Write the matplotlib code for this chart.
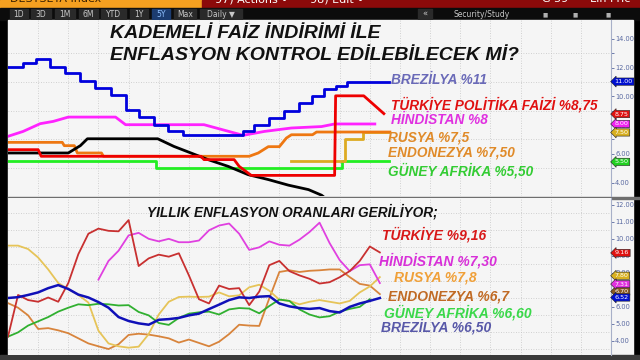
#!/usr/bin/env python3
"""Policy rates vs. annual inflation, emerging markets (Bloomberg-style screenshot)."""

import matplotlib
matplotlib.use("Agg")
import matplotlib.pyplot as plt
import numpy as np
from matplotlib.patches import Rectangle
from matplotlib.ticker import MultipleLocator, FormatStrFormatter

# ---------------- top panel: policy rates (month index, value) ----------------
brazil_rate_m = [0, 1.5, 2.8, 4.2, 5.7, 7.2, 8.7, 10.2, 11.7, 13.0, 14.5, 15.9, 17.4,
                 23.4, 24.5, 26.0, 27.5, 29.0, 30.2, 31.4, 32.6, 33.7, 37.9]
brazil_rate = [12.08, 12.35, 12.6, 12.08, 11.6, 11.08, 10.6, 10.1, 9.07, 8.56, 8.03, 7.56, 7.29,
               7.56, 8.03, 8.53, 9.0, 9.53, 10.04, 10.5, 10.75, 11.03, 11.03]

turkey_rate_m = [0, 3.0, 3.3, 19.2, 19.5, 22.5, 23.0, 24.2, 32.5, 32.6, 35.4, 37.4]
turkey_rate = [6.29, 6.29, 5.83, 5.83, 5.6, 5.6, 5.13, 4.5, 4.5, 10.04, 10.04, 8.8]

india_rate_m = [0, 1.5, 3.2, 4.5, 6.0, 10.7, 11.7, 19.5, 23.4, 25.5, 28.2, 31.2, 32.5, 36.5]
india_rate = [7.22, 7.56, 8.1, 8.26, 8.56, 8.56, 8.03, 8.03, 7.29, 7.56, 7.8, 7.9, 8.08, 8.08]

indonesia_rate_m = [0, 5.4, 5.6, 6.6, 6.9, 9.3, 9.5, 24.0, 24.9, 25.9, 27.0, 27.7, 28.2,
                    30.3, 30.7, 38.0]
indonesia_rate = [6.8, 6.8, 6.57, 6.57, 6.06, 6.06, 5.83, 5.83, 6.06, 6.5, 6.5, 7.1, 7.33,
                  7.33, 7.52, 7.52]

russia_rate_m = [28.2, 33.5, 35.3, 37.9]
russia_rate = [5.5, 7.0, 7.5, 7.5]

safrica_rate_m = [0, 14.7, 33.2, 37.9]
safrica_rate = [5.48, 5.02, 5.5, 5.5]

other_rate_m = [0, 6.0, 7.2, 7.9, 14.9, 16.5, 18.2, 19.9, 21.9, 23.9, 25.9, 27.9, 29.9, 31.2, 31.6]
other_rate = [6.06, 6.06, 6.57, 7.05, 7.05, 6.52, 6.06, 5.6, 5.13, 4.55, 4.21, 3.82, 3.51, 3.12, 2.9]

# ---------------- bottom panel: annual inflation, monthly ----------------
months = np.arange(38)
nan = np.nan
turkey_cpi = [4.25, 6.7, 6.4, 6.3, 6.55, 6.3, 7.4, 9.1, 10.3, 10.6, 10.47, 10.44, 11.1, 8.4,
              8.85, 9.07, 8.95, 9.15, 7.85, 6.45, 6.2, 7.25, 7.05, 7.1, 6.1, 6.9, 8.45, 8.7,
              8.1, 7.85, 7.65, 7.37, 7.45, 7.74, 8.1, 8.7, 9.55, 9.2]
india_cpi = [nan] * 9 + [7.6, 8.7, 9.3, 10.2, 10.35, 10.0, 9.85, 10.0, 9.8, 9.8, 9.9, 10.5,
                         10.78, 10.9, 10.3, 9.35, 9.5, 9.85, 9.65, 9.6, 9.95, 10.4, 10.95,
                         9.75, 8.75, 8.1, 8.45, 8.5, 7.4]
russia_cpi = [9.6, 9.6, 9.4, 8.9, 8.2, 7.4, 7.05, 6.7, 6.25, 4.6, 3.85, 3.68, 3.6, 3.66, 4.4,
              5.55, 6.3, 6.58, 6.6, 6.58, 6.6, 6.85, 6.62, 6.68, 7.15, 7.3, 6.95, 6.42, 6.35,
              6.15, 6.3, 6.4, 6.3, 6.2, 6.35, 6.85, 7.2, 7.75]
indonesia_cpi = [6.22, 5.95, 5.5, 4.7, 4.75, 4.62, 4.45, 4.15, 3.85, 3.68, 3.52, 3.8, 4.35,
                 4.42, 4.37, 4.27, 4.15, 3.9, 4.08, 3.88, 3.68, 3.95, 4.4, 4.95, 4.9, 4.88,
                 6.5, 8.05, 8.15, 8.05, 8.12, 8.15, 8.2, 8.2, 7.75, 7.35, 7.25, 6.75]
safrica_cpi = [4.25, 4.5, 4.9, 5.15, 5.4, 5.72, 5.95, 6.15, 6.1, 6.18, 6.15, 6.08, 6.1, 5.7,
               5.5, 5.05, 4.94, 5.35, 5.6, 5.68, 5.72, 5.55, 5.85, 5.93, 5.9, 5.62, 6.05,
               6.43, 6.35, 5.85, 5.55, 5.38, 5.45, 5.72, 5.88, 6.0, 6.45, nan]
brazil_cpi = [6.52, 6.57, 6.7, 6.85, 7.1, 7.28, 7.05, 6.72, 6.55, 6.28, 5.95, 5.4, 5.17, 5.03,
              4.95, 5.24, 5.28, 5.35, 5.5, 5.6, 5.87, 6.13, 6.4, 6.56, 6.52, 6.6, 6.63, 6.2,
              6.03, 5.93, 5.88, 5.93, 5.75, 5.67, 6.0, 6.2, 6.35, 6.52]

# last-value tags on the right axis (text, position, colour)
top_tags = ["11.00", "8.75", "8.00", "7.50", "5.50"]
top_tag_pos = [11.03, 8.77, 8.08, 7.49, 5.44]
top_tag_col = ["#0010d0", "#e01010", "#f020f0", "#d8b020", "#20d020"]
bot_tags = ["6.70", "9.16", "7.80", "7.31", "6.52"]
bot_tag_pos = [6.9, 9.17, 7.83, 7.34, 6.55]
bot_tag_col = ["#8a5a20", "#e01010", "#d8b020", "#e030e0", "#0010d0"]

W, H = 640, 360
BG = "#f5f5f5"
FONT = "Liberation Sans"


def fx(px):
    return px / W


def fy(py):
    return 1 - py / H


fig = plt.figure(figsize=(6.4, 3.6), dpi=100, facecolor="black")


def frect(x0, y0, x1, y1, color, z=-10):
    fig.patches.append(Rectangle((fx(x0), fy(y1)), (x1 - x0) / W, (y1 - y0) / H,
                                 transform=fig.transFigure, color=color, zorder=z))


# chrome: header bars, toolbar, plot background, separators
frect(0, 0, 202, 8, "#f5a020")
frect(202, 0, 640, 8, "#8c0a0a")
frect(0, 8, 640, 20, "#0c0c0c")
frect(8, 20, 633, 355, BG)
frect(0, 355, 640, 360, "#3a3a3a")
frect(8, 196.5, 640, 198.5, "#6e6e6e", z=-5)

hdr = dict(fontsize=8, family="DejaVu Sans", va="center")
fig.text(fx(10), fy(-0.5), "DESTSETA Index", color="#3a2000", **hdr)
fig.text(fx(215), fy(-0.5), "97) Actions \u2022", color="white", **hdr)
fig.text(fx(310), fy(-0.5), "98) Edit \u2022", color="white", **hdr)
fig.text(fx(542), fy(-0.5), "G 59", color="white", **hdr)
fig.text(fx(590), fy(-0.5), "Lin Pric", color="white", **hdr)

buttons = ["1D", "3D", "1M", "6M", "YTD", "1Y", "5Y", "Max", "Daily \u25bc"]
button_x = [10, 31, 55, 79, 101, 130, 152, 174, 200]
button_w = [18, 20, 20, 19, 25, 18, 18, 22, 42]
for lab, bx, bw in zip(buttons, button_x, button_w):
    active = lab == "5Y"
    frect(bx, 9.5, bx + bw, 19, "#1c3c70" if active else "#2a2a2a", z=-4)
    fig.text(fx(bx + bw / 2), fy(14.5), lab, ha="center", va="center", fontsize=5.5,
             family="DejaVu Sans", color="#8fc0ff" if active else "#c8c8c8")
frect(418, 9.5, 432, 19, "#2a2a2a", z=-4)
fig.text(fx(425), fy(14.5), "\u00ab", ha="center", va="center", fontsize=6, color="#c8c8c8")
fig.text(fx(453), fy(14.5), "Security/Study", va="center", fontsize=5.5,
         family="DejaVu Sans", color="#c8c8c8")
for ix in [545, 575, 608]:
    fig.text(fx(ix), fy(14.5), "\u25a0", ha="center", va="center", fontsize=4,
             color="#b0b0b0")

ax_top = fig.add_axes([fx(8), fy(196.5), (611 - 8) / W, (196.5 - 20) / H])
ax_bot = fig.add_axes([fx(8), fy(355), (611 - 8) / W, (355 - 198.5) / H])

for ax in (ax_top, ax_bot):
    ax.set_facecolor(BG)
    ax.set_xlim(0, 60)
    for s in ("top", "left", "bottom"):
        ax.spines[s].set_visible(False)
    ax.spines["right"].set_color("#a8b0c8")
    ax.spines["right"].set_linewidth(0.8)
    ax.yaxis.tick_right()
    ax.yaxis.set_major_formatter(FormatStrFormatter("%.2f"))
    ax.tick_params(axis="y", which="both", labelsize=4.8, labelcolor="#5868a0",
                   color="#5868a0", length=2, width=0.6, pad=1)
    ax.tick_params(axis="x", which="both", bottom=False, labelbottom=False)
    ax.set_xticks(np.arange(3, 60, 3), minor=True)
    ax.grid(True, which="minor", axis="x", color="#c4c4c4", linestyle=(0, (1, 2)),
            linewidth=0.6)

# ---- top panel ----
ax_top.set_ylim(3.03, 15.32)
ax_top.yaxis.set_major_locator(MultipleLocator(2))
ax_top.set_yticks(np.arange(5, 15, 2), minor=True)
ax_top.grid(True, which="minor", axis="y", color="#c4c4c4", linestyle=(0, (1, 2)),
            linewidth=0.6)

lw = 2.0
ax_top.plot(safrica_rate_m, safrica_rate, drawstyle="steps-post", color="#22ee22", lw=lw)
ax_top.plot(russia_rate_m, russia_rate, drawstyle="steps-post", color="#ddaa22", lw=lw)
ax_top.plot(indonesia_rate_m, indonesia_rate, color="#ee7711", lw=lw)
ax_top.plot(other_rate_m, other_rate, color="black", lw=lw)
ax_top.plot(india_rate_m, india_rate, color="#ff22ff", lw=lw)
ax_top.plot(turkey_rate_m, turkey_rate, color="#ee0000", lw=lw)
ax_top.plot(brazil_rate_m, brazil_rate, drawstyle="steps-post", color="#0000dd", lw=lw)

title_kw = dict(family=FONT, weight="bold", style="italic", va="center", color="#111111")
ax_top.text(10.1, 14.35, "KADEMELİ FAİZ İNDİRİMİ İLE", fontsize=14, **title_kw)
ax_top.text(10.1, 12.88, "ENFLASYON KONTROL EDİLEBİLECEK Mİ?", fontsize=14, **title_kw)

lab_kw = dict(family=FONT, weight="bold", style="italic", va="center", fontsize=9.8)
ax_top.text(38.1, 11.15, "BREZİLYA %11", color="#6a6ab8", **lab_kw)
ax_top.text(38.1, 9.42, "TÜRKİYE POLİTİKA FAİZİ %8,75", color="#e01010", **lab_kw)
ax_top.text(38.1, 8.33, "HİNDİSTAN %8", color="#e030e0", **lab_kw)
ax_top.text(37.8, 7.17, "RUSYA %7,5", color="#e08a28", **lab_kw)
ax_top.text(37.8, 6.06, "ENDONEZYA %7,50", color="#e08a28", **lab_kw)
ax_top.text(37.8, 4.85, "GÜNEY AFRİKA %5,50", color="#33cc33", **lab_kw)

# ---- bottom panel ----
ax_bot.set_ylim(3.17, 12.37)
ax_bot.yaxis.set_major_locator(MultipleLocator(1))
ax_bot.set_yticks(np.arange(3.5, 12.5, 1), minor=True)
ax_bot.tick_params(axis="y", which="minor", length=0)
ax_bot.grid(True, which="minor", axis="y", color="#c4c4c4", linestyle=(0, (1, 2)),
            linewidth=0.6)

lw2 = 1.3
ax_bot.plot(months, indonesia_cpi, color="#d8843c", lw=lw2)
ax_bot.plot(months, russia_cpi, color="#e6c458", lw=lw2)
ax_bot.plot(months, safrica_cpi, color="#30b030", lw=lw2)
ax_bot.plot(months, india_cpi, color="#e040e0", lw=lw2)
ax_bot.plot(months, turkey_cpi, color="#c83030", lw=lw2)
ax_bot.plot(months, brazil_cpi, color="#1010b8", lw=1.8)

ax_bot.text(13.8, 11.62, "YILLIK ENFLASYON ORANLARI GERİLİYOR;", color="#111111",
            **dict(lab_kw, fontsize=9.8))
lab2 = dict(lab_kw, fontsize=10)
ax_bot.text(37.2, 10.25, "TÜRKİYE %9,16", color="#d81818", **lab2)
ax_bot.text(36.9, 8.73, "HİNDİSTAN %7,30", color="#d830d8", **lab2)
ax_bot.text(38.4, 7.70, "RUSYA %7,8", color="#f0a038", **lab2)
ax_bot.text(37.8, 6.61, "ENDONEZYA %6,7", color="#c06a24", **lab2)
ax_bot.text(37.4, 5.63, "GÜNEY AFRİKA %6,60", color="#3ad84a", **lab2)
ax_bot.text(37.1, 4.81, "BREZİLYA %6,50", color="#5858a8", **lab2)

# ---- value tags on the right axis ----
for ax, tags, pos, cols in ((ax_top, top_tags, top_tag_pos, top_tag_col),
                            (ax_bot, bot_tags, bot_tag_pos, bot_tag_col)):
    tr = ax.get_yaxis_transform()
    for t, p, c in zip(tags, pos, cols):
        ax.text(1.006, p, t, transform=tr, fontsize=4.6, family="DejaVu Sans",
                color="white", va="center", ha="left", clip_on=False, zorder=10,
                bbox=dict(boxstyle="larrow,pad=0.18", fc=c, ec="#202020", lw=0.4))

fig.savefig("out.png", dpi=100, facecolor=fig.get_facecolor())
